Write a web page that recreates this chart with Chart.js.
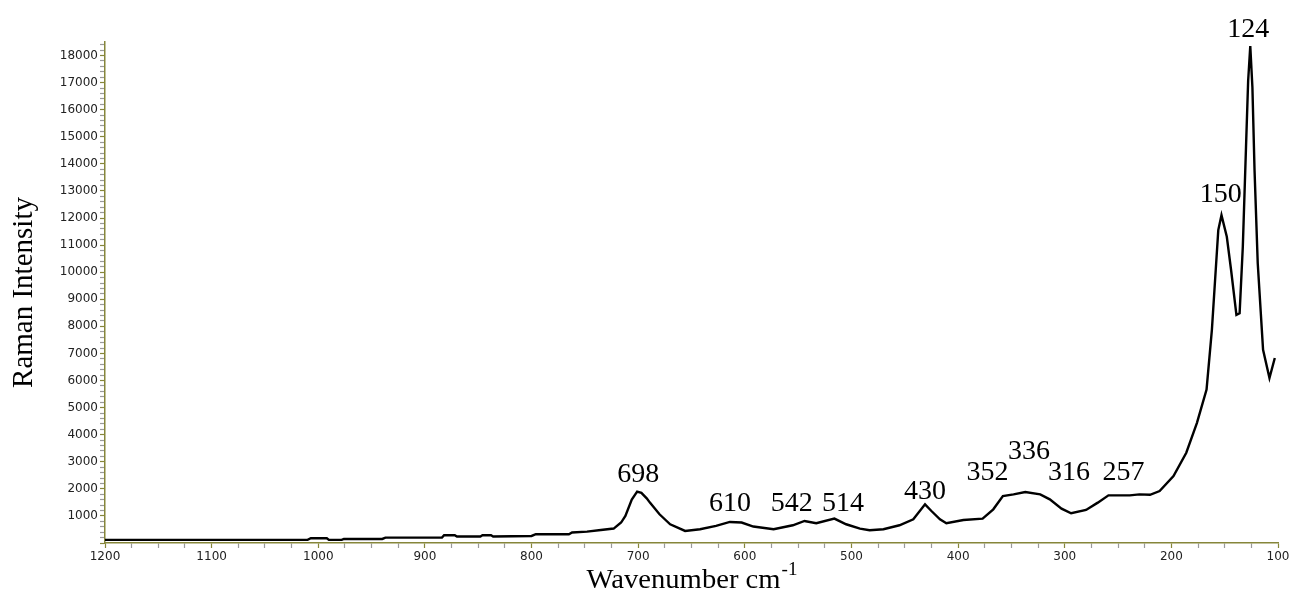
<!DOCTYPE html>
<html>
<head>
<meta charset="utf-8">
<script src="https://cdn.jsdelivr.net/npm/chart.js@4.4.1/dist/chart.umd.min.js"></script>
<style>
  html, body { margin: 0; padding: 0; background: #ffffff; }
  #wrap { width: 1293px; height: 597px; }
</style>
</head>
<body>
<div id="wrap"><canvas id="c" width="1293" height="597"></canvas></div>
<script>
// ---- Data ----
const wavenumbers = [
  1200, 1010, 1007, 992, 990, 978, 976, 940, 937, 884, 882, 872, 870, 848, 846, 838, 836, 800, 796, 765, 762,
  748, 735, 723, 716, 712, 706, 701, 697, 692, 689, 680, 670, 656, 642, 627, 614, 603, 592, 573,
  555, 544, 533, 516, 505, 492, 483, 470, 455, 442, 431, 425, 417, 411, 395, 377, 367, 358,
  348, 337, 323, 314, 303, 294, 280, 269, 259, 239, 230, 220, 211, 198, 186, 176, 167, 162,
  159, 156, 153, 148, 144, 139, 136, 133, 130, 128, 126, 124, 122, 119, 114, 108, 103
];
const intensity = [
  115, 115, 175, 175, 115, 115, 150, 150, 200, 200, 285, 285, 240, 240, 285, 285, 240, 260, 325, 325, 390,
  420, 480, 533, 755, 1000, 1600, 1900, 1850, 1650, 1491, 1060, 692, 446, 508, 630, 777, 755, 607, 508,
  655, 814, 729, 902, 692, 533, 471, 508, 655, 876, 1429, 1182, 876, 729, 851, 902, 1244, 1734,
  1797, 1882, 1797, 1613, 1270, 1097, 1219, 1491, 1760, 1760, 1797, 1780, 1918, 2471, 3332, 4437, 5663, 7872,
  9713, 11554, 12106, 11307, 10081, 8424, 8486, 10939, 14621, 17062, 18351, 16830, 13763, 10328, 7136, 6094, 6830
];
const peakLabels = ['124', '150', '698', '610', '542', '514', '430', '352', '336', '316', '257'];
const peakLabelX = [128, 153.6, 700, 614, 556, 508, 431, 372.5, 333.6, 296, 245];
const peakLabelY = [18700, 12600, 2240, 1170, 1170, 1170, 1610, 2310, 3120, 2310, 2310];
const xTickValues = [1200, 1100, 1000, 900, 800, 700, 600, 500, 400, 300, 200, 100];
const yTickValues = [1000, 2000, 3000, 4000, 5000, 6000, 7000, 8000, 9000, 10000, 11000, 12000, 13000, 14000, 15000, 16000, 17000, 18000];
const xTitle = 'Wavenumber cm';
const xTitleSup = '-1';
const yTitle = 'Raman Intensity';

// ---- Styles ----
const AXIS_COLOR = '#86863a';
const MINOR_COLOR = '#9a9a9a';
const TICK_FONT = { family: 'DejaVu Sans', size: 12 };
const SERIF = '"Liberation Serif", "Times New Roman", serif';

const points = wavenumbers.map((w, i) => ({ x: w, y: intensity[i] }));

const annotationPlugin = {
  id: 'annotationText',
  afterDraw(chart) {
    const ctx = chart.ctx;
    const xs = chart.scales.x, ys = chart.scales.y;
    ctx.save();
    ctx.fillStyle = '#000';
    ctx.font = '28px ' + SERIF;
    ctx.textAlign = 'center';
    ctx.textBaseline = 'alphabetic';
    peakLabels.forEach((t, i) => {
      ctx.fillText(t, xs.getPixelForValue(peakLabelX[i]), ys.getPixelForValue(peakLabelY[i]));
    });
    // y title
    const area = chart.chartArea;
    ctx.save();
    ctx.translate(32, (area.top + area.bottom) / 2);
    ctx.rotate(-Math.PI / 2);
    ctx.font = '29px ' + SERIF;
    ctx.textAlign = 'center';
    ctx.fillText(yTitle, 0, 0);
    ctx.restore();
    // x title
    ctx.save();
    ctx.font = '27px ' + SERIF;
    const w1 = ctx.measureText(xTitle).width;
    ctx.font = '18px ' + SERIF;
    const w2 = ctx.measureText(xTitleSup).width;
    const sx = 1.06;
    const total = (w1 + w2) * sx;
    const cx = (area.left + area.right) / 2;
    ctx.translate(cx - total / 2, 588);
    ctx.scale(sx, 1);
    ctx.textAlign = 'left';
    ctx.font = '27px ' + SERIF;
    ctx.fillText(xTitle, 0, 0);
    ctx.font = '18px ' + SERIF;
    ctx.fillText(xTitleSup, w1 + 1, -13);
    ctx.restore();
    ctx.restore();
  }
};

new Chart(document.getElementById('c'), {
  type: 'line',
  data: {
    datasets: [{
      data: points,
      borderColor: '#000',
      borderWidth: 2.4,
      pointRadius: 0,
      tension: 0,
      fill: false
    }]
  },
  options: {
    responsive: false,
    devicePixelRatio: 1,
    animation: false,
    layout: { padding: { top: 42, right: 15, left: 0, bottom: 0 } },
    plugins: { legend: { display: false }, tooltip: { enabled: false } },
    scales: {
      x: {
        type: 'linear',
        reverse: true,
        min: 100,
        max: 1200,
        afterBuildTicks(scale) {
          const t = [];
          for (let v = 100; v <= 1200; v += 25) t.push({ value: v });
          scale.ticks = t;
        },
        afterFit(scale) { scale.height = 54; },
        ticks: {
          autoSkip: false,
          maxRotation: 0,
          padding: 2,
          color: '#222',
          font: TICK_FONT,
          callback: (v) => xTickValues.includes(v) ? String(v) : ''
        },
        grid: {
          drawOnChartArea: false,
          tickLength: 5,
          tickWidth: 1.2,
          tickColor: (c) => (c.tick && c.tick.value % 100 === 0) ? AXIS_COLOR : MINOR_COLOR
        },
        border: { color: AXIS_COLOR, width: 1.5 }
      },
      y: {
        type: 'linear',
        min: 0,
        max: 18500,
        afterBuildTicks(scale) {
          const t = [];
          for (let v = 0; v <= 18400; v += 200) t.push({ value: v });
          scale.ticks = t;
        },
        afterFit(scale) { scale.width = 105; },
        ticks: {
          autoSkip: false,
          padding: 2,
          color: '#222',
          font: TICK_FONT,
          callback: (v) => yTickValues.includes(v) ? String(v) : ''
        },
        grid: {
          drawOnChartArea: false,
          tickLength: 5,
          tickWidth: 1.2,
          tickColor: (c) => (c.tick && c.tick.value % 1000 === 0) ? AXIS_COLOR : MINOR_COLOR
        },
        border: { color: AXIS_COLOR, width: 1.5 }
      }
    }
  },
  plugins: [annotationPlugin]
});
</script>
</body>
</html>
